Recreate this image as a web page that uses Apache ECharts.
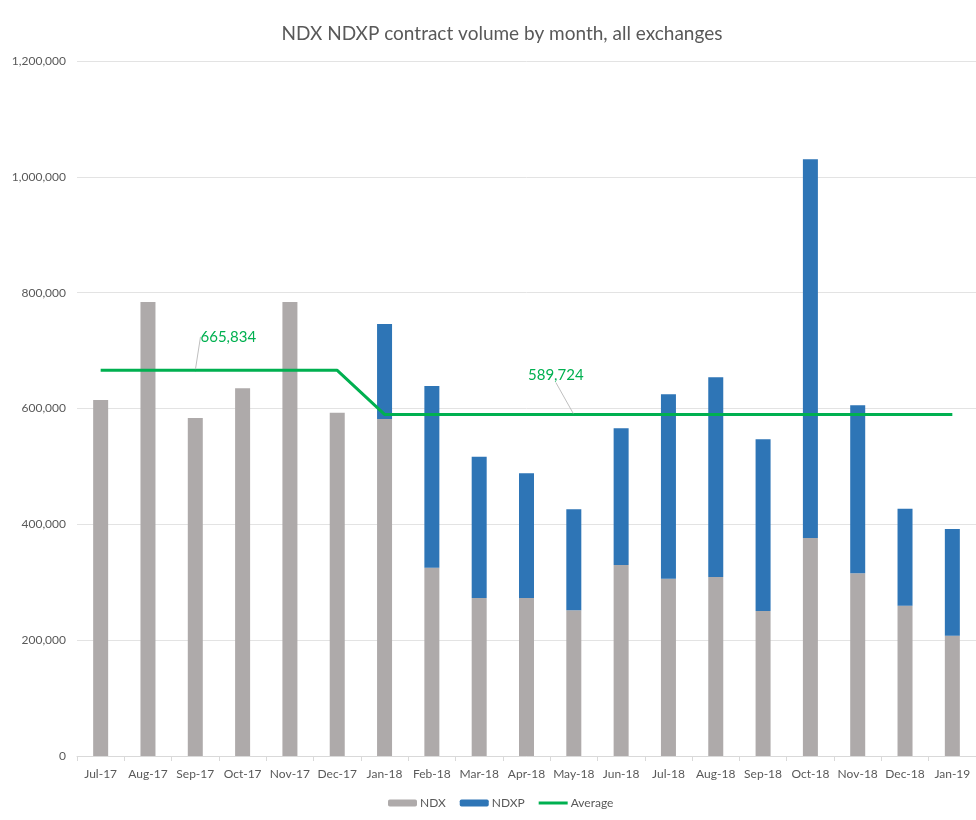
<!DOCTYPE html>
<html>
<head>
<meta charset="utf-8">
<title>NDX NDXP contract volume by month</title>
<script src="https://cdn.jsdelivr.net/npm/echarts@6/dist/echarts.min.js"></script>
<style>
  html, body { margin: 0; padding: 0; background: #fff; }
  #chart { width: 976px; height: 820px; }
</style>
</head>
<body>
<div id="chart"></div>
<script type="text/javascript">
// 月份
var months = ['Jul-17', 'Aug-17', 'Sep-17', 'Oct-17', 'Nov-17', 'Dec-17', 'Jan-18', 'Feb-18', 'Mar-18', 'Apr-18',
    'May-18', 'Jun-18', 'Jul-18', 'Aug-18', 'Sep-18', 'Oct-18', 'Nov-18', 'Dec-18', 'Jan-19'];

// 合约量
var ndx = [614700, 783900, 583600, 634900, 783900, 592800, 581900, 325100, 272800, 272800,
    251500, 329800, 306200, 309100, 250400, 376400, 315400, 259500, 207700];
var ndxp = [0, 0, 0, 0, 0, 0, 164000, 313700, 244000, 215300,
    174400, 236000, 318300, 344700, 296400, 653900, 290100, 167500, 184200];

// 平均值 (before / after NDXP launch)
var average = [665834, 665834, 665834, 665834, 665834, 665834, 589724, 589724, 589724, 589724,
    589724, 589724, 589724, 589724, 589724, 589724, 589724, 589724, 589724];

// which points carry the average label
var labelIdx = [2, 10];

var yTicks = [0, 200000, 400000, 600000, 800000, 1000000, 1200000];

var font = 'Lato';
var textGrey = '#595959';

function fmt(v) {
    return Number(v).toLocaleString('en-US');
}

var avgData = average.map(function (v, i) {
    if (labelIdx.indexOf(i) >= 0) {
        return {
            value: v,
            symbol: 'circle',
            symbolSize: 2,
            label: { show: true }
        };
    }
    return v;
});

var chart = echarts.init(document.getElementById('chart'));

chart.setOption({
    animation: false,
    textStyle: { fontFamily: font },
    title: {
        text: 'NDX NDXP contract volume by month, all exchanges',
        left: 497,
        textAlign: 'center',
        top: 19,
        textStyle: { fontFamily: font, fontSize: 19, fontWeight: 'normal', color: textGrey }
    },
    legend: {
        bottom: 6,
        left: 383,
        itemWidth: 29,
        itemHeight: 7,
        itemGap: 14,
        textStyle: { fontFamily: font, fontSize: 12, color: textGrey, padding: [0, 0, 0, -2] },
        data: [
            'NDX',
            'NDXP',
            { name: 'Average', icon: 'path://M0,0L29,0L29,3L0,3Z' }
        ]
    },
    grid: {
        left: 77,
        right: 0,
        top: 61,
        bottom: 64
    },
    xAxis: {
        type: 'category',
        data: months,
        axisLine: { lineStyle: { color: '#D9D9D9' } },
        axisTick: { show: true, length: 5, lineStyle: { color: '#D9D9D9' } },
        axisLabel: { color: textGrey, fontSize: 12, fontFamily: font, margin: 12, interval: 0 }
    },
    yAxis: {
        type: 'value',
        min: yTicks[0],
        max: yTicks[yTicks.length - 1],
        interval: 200000,
        axisLine: { show: false },
        axisTick: { show: false },
        splitLine: { lineStyle: { color: '#E3E3E3' } },
        axisLabel: {
            color: textGrey, fontSize: 12, fontFamily: font, margin: 11,
            formatter: function (v) { return fmt(v); }
        }
    },
    series: [
        {
            name: 'NDX',
            type: 'bar',
            stack: 'total',
            barWidth: 15,
            itemStyle: { color: '#AEAAAA' },
            data: ndx
        },
        {
            name: 'NDXP',
            type: 'bar',
            stack: 'total',
            barWidth: 15,
            itemStyle: { color: '#2E75B6' },
            data: ndxp
        },
        {
            name: 'Average',
            type: 'line',
            symbol: 'none',
            z: 5,
            lineStyle: { color: '#00B050', width: 3 },
            itemStyle: { color: '#00B050' },
            label: {
                show: false,
                position: 'top',
                color: '#00B050',
                fontSize: 15,
                fontFamily: font,
                formatter: function (p) { return fmt(p.value); }
            },
            labelLine: {
                show: true,
                lineStyle: { color: '#BFBFBF', width: 1 }
            },
            labelLayout: function (p) {
                // 标签偏移
                if (p.dataIndex === 2) return { dx: 33, dy: -20 };
                if (p.dataIndex === 10) return { dx: -18, dy: -26 };
                return {};
            },
            data: avgData
        }
    ]
});
</script>
</body>
</html>
